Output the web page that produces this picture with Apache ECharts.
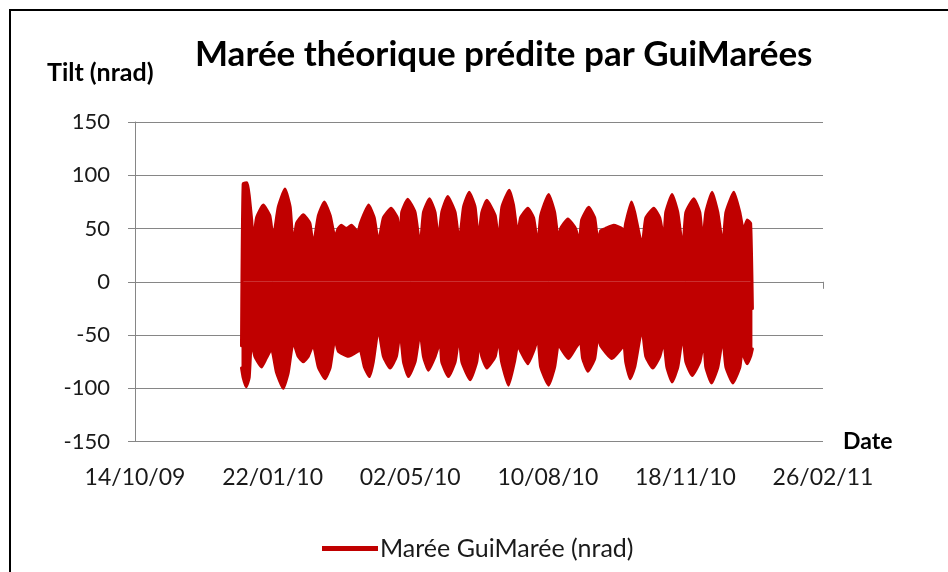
<!DOCTYPE html>
<html>
<head>
<meta charset="utf-8">
<title>Marée théorique prédite par GuiMarées</title>
<script src="https://cdn.jsdelivr.net/npm/echarts@6/dist/echarts.min.js"></script>
<style>
  html, body { margin: 0; padding: 0; background: #fff; }
  #chart { width: 948px; height: 572px; }
</style>
</head>
<body>
<div id="chart"></div>
<script>
// x values are Excel serial days (40100 = 14/10/2009), as in the source sheet
const xMin = 40100, xMax = 40600, xStep = 100;
const yMin = -150, yMax = 150, yStep = 50;

// upper envelope of the predicted tilt, [serial day, nrad]
const upperEnvelope = [
  [40177.4,-60],[40178.6,92],[40181.5,93],[40184.8,58],[40185.9,37],[40188.3,60],[40193.2,72],[40198.0,62],
  [40200.4,41],[40204.1,70],[40209.0,87],[40212.8,70],[40215.0,34],[40217.4,55],[40222.3,63],[40227.1,55],
  [40229.5,34],[40233.2,62],[40237.6,75],[40241.9,62],[40245.3,42],[40247.7,50],[40249.9,53],[40253.6,50],
  [40257.2,53],[40260.8,48],[40261.8,45],[40263.8,55],[40269.8,72],[40273.9,60],[40276.9,37],[40280.5,60],
  [40286.1,69],[40290.7,60],[40292.7,37],[40293.8,65],[40298.2,77.5],[40303.6,65],[40307.2,33],[40309.6,65],
  [40314.0,78],[40318.1,65],[40320.5,39],[40322.9,65],[40327.3,80],[40332.7,65],[40335.6,37],[40338.7,70],
  [40342.9,84],[40347.2,70],[40349.6,40],[40352.0,65],[40355.7,76.5],[40361.8,62],[40364.2,37],[40366.6,70],
  [40372.0,86],[40375.1,72],[40378.2,44],[40380.2,60],[40385.5,69],[40389.7,60],[40392.8,34],[40394.8,62],
  [40400.6,82],[40405.0,65],[40407.9,37],[40409.3,50],[40414.6,59],[40420.2,50],[40422.9,37],[40424.6,58],
  [40429.7,70],[40434.1,60],[40436.5,37],[40438.4,48],[40441.9,50],[40447.9,53],[40453.9,50],[40455.2,44],
  [40456.6,55],[40460.8,75],[40463.2,65],[40468.5,34],[40471.2,60],[40477.0,69],[40481.4,60],[40484.3,40],
  [40485.7,65],[40490.3,82],[40494.5,65],[40498.1,31],[40500.3,65],[40506.1,78],[40510.5,65],[40512.7,37],
  [40514.8,65],[40519.4,84],[40523.6,65],[40527.2,34],[40529.4,65],[40535.2,84],[40539.6,65],[40541.3,53],
  [40542.5,50],[40544.9,58],[40547.4,55],[40548.7,-25]
];

// lower envelope of the predicted tilt, [serial day, nrad]
const lowerEnvelope = [
  [40177.4,-81],[40178.6,-90],[40180.8,-98.5],[40183.0,-90],[40184.6,-56],[40187.1,-70],[40191.9,-80],[40195.3,-72],
  [40199.2,-63],[40202.8,-85],[40207.7,-100],[40211.4,-85],[40215.0,-56],[40218.6,-70],[40222.3,-75],[40225.9,-70],
  [40229.5,-59],[40233.2,-80],[40238.1,-91],[40241.9,-80],[40245.3,-53],[40247.7,-65],[40255.0,-70],[40262.3,-65],
  [40263.5,-63],[40266.7,-80],[40270.3,-89],[40273.2,-75],[40276.9,-44],[40280.5,-70],[40285.4,-81],[40290.0,-70],
  [40292.7,-47],[40295.1,-75],[40298.7,-89],[40303.6,-75],[40307.2,-47],[40309.6,-70],[40313.2,-83],[40318.1,-70],
  [40321.8,-56],[40322.9,-75],[40327.8,-89],[40332.7,-75],[40335.6,-50],[40337.5,-75],[40343.6,-92],[40348.4,-75],
  [40350.1,-56],[40352.0,-70],[40355.7,-81],[40361.8,-70],[40364.2,-53],[40366.4,-75],[40371.5,-97],[40375.8,-75],
  [40378.2,-59],[40380.2,-65],[40385.5,-77],[40389.7,-65],[40392.8,-53],[40394.8,-80],[40400.6,-97],[40405.0,-80],
  [40407.9,-56],[40409.3,-62],[40415.1,-72],[40420.2,-62],[40423.7,-56],[40425.3,-72],[40429.2,-84],[40434.1,-72],
  [40436.5,-50],[40438.4,-60],[40446.6,-72],[40453.7,-62],[40455.2,-56],[40456.6,-75],[40459.9,-91],[40463.2,-80],
  [40468.5,-44],[40471.2,-70],[40476.3,-81],[40481.4,-70],[40484.3,-56],[40486.5,-80],[40490.3,-94],[40494.5,-80],
  [40498.1,-50],[40500.3,-75],[40504.9,-88],[40510.5,-75],[40513.4,-56],[40514.8,-80],[40519.0,-95],[40523.6,-80],
  [40527.2,-53],[40529.4,-80],[40534.5,-95],[40539.6,-80],[40541.3,-63],[40542.5,-70],[40544.9,-77],[40547.4,-70],
  [40548.7,-63]
];

const seriesName = 'Marée GuiMarée (nrad)';
const red = '#C00000';
const gray = '#868686';
const font = 'Lato, "Open Sans", sans-serif';

function serialToLabel(v) {
  const d = new Date(Math.round((v - 25569) * 86400000));
  const p = n => String(n).padStart(2, '0');
  return p(d.getUTCDate()) + '/' + p(d.getUTCMonth() + 1) + '/' + p(d.getUTCFullYear() % 100);
}

const envelopeSeries = data => ({
  name: seriesName,
  type: 'line',
  xAxisIndex: 0,
  data: data,
  symbol: 'none',
  smooth: 0.15,
  clip: true,
  lineStyle: {color: red, width: 3, join: 'round', cap: 'round'},
  itemStyle: {color: red},
  areaStyle: {color: red, opacity: 1, origin: 0}
});

const option = {
  animation: false,
  textStyle: {fontFamily: font},
  title: [
    {text: 'Marée théorique prédite par GuiMarées', left: 190, top: 32,
     textStyle: {fontFamily: font, fontSize: 35, fontWeight: 'bold', color: '#000'}},
    {text: 'Tilt (nrad)', left: 42, top: 55,
     textStyle: {fontFamily: font, fontSize: 25, fontWeight: 'bold', color: '#000'}}
  ],
  legend: {
    data: [seriesName],
    left: 322, top: 536, padding: 0,
    icon: 'rect', itemWidth: 56, itemHeight: 5, itemGap: 10,
    textStyle: {fontFamily: font, fontSize: 25, color: '#1a1a1a', padding: [0, 0, 0, -3]}
  },
  grid: {left: 135, right: 125, top: 122, bottom: 130.4, containLabel: false},
  xAxis: [
    {
      type: 'value', min: xMin, max: xMax, interval: xStep, position: 'bottom',
      name: 'Date', nameLocation: 'end', nameGap: 20,
      nameTextStyle: {fontFamily: font, fontSize: 23, fontWeight: 'bold', color: '#000',
                      verticalAlign: 'middle', padding: [0, 0, 16, 0]},
      axisLine: {show: false, onZero: false},
      axisTick: {show: false},
      splitLine: {show: false},
      axisLabel: {margin: 24, fontSize: 23, color: '#1a1a1a', fontFamily: font, formatter: serialToLabel}
    },
    {
      // axis line crossing at zero, as in the spreadsheet
      type: 'value', min: xMin, max: xMax, interval: xStep, position: 'bottom',
      axisLine: {show: true, onZero: true, lineStyle: {color: gray, width: 1}},
      axisTick: {show: true, inside: false, length: 7, lineStyle: {color: gray}},
      axisLabel: {show: false},
      splitLine: {show: false}
    }
  ],
  yAxis: {
    type: 'value', min: yMin, max: yMax, interval: yStep,
    axisLine: {show: true, lineStyle: {color: gray, width: 1}},
    axisTick: {show: true, inside: false, length: 7, lineStyle: {color: gray}},
    splitLine: {show: true, lineStyle: {color: gray, width: 1}},
    axisLabel: {margin: 25, fontSize: 22, color: '#1a1a1a', fontFamily: font}
  },
  graphic: [
    {type: 'rect', silent: true, z: 100,
     shape: {x: 10, y: 10, width: 1000, height: 700},
     style: {fill: null, stroke: '#000', lineWidth: 2}}
  ],
  series: [envelopeSeries(upperEnvelope), envelopeSeries(lowerEnvelope)]
};

const myChart = echarts.init(document.getElementById('chart'), null, {renderer: 'canvas'});
myChart.setOption(option);
</script>
</body>
</html>
